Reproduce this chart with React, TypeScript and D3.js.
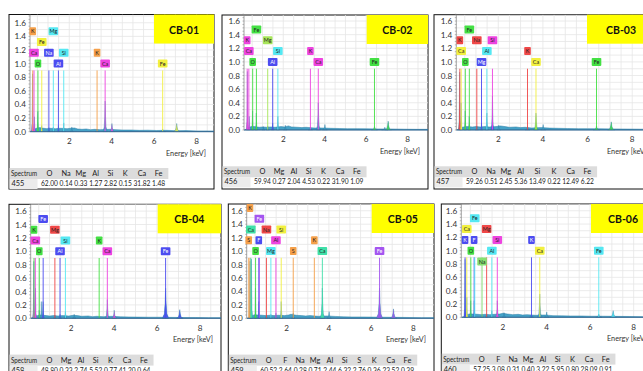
import * as d3 from "d3";

type Pt = [number, number];

const panelNames = ["CB-01", "CB-02", "CB-03", "CB-04", "CB-05", "CB-06"];
const spectrumIds = ["455", "456", "457", "458", "459", "460"];

const yTicks = [0, 0.2, 0.4, 0.6, 0.8, 1.0, 1.2, 1.4, 1.6];
const xTicks = [2, 4, 6, 8];

const tableElements = [
  ["O", "Na", "Mg", "Al", "Si", "K", "Ca", "Fe"],
  ["O", "Mg", "Al", "Si", "K", "Ca", "Fe"],
  ["O", "Na", "Mg", "Al", "Si", "K", "Ca", "Fe"],
  ["O", "Mg", "Al", "Si", "K", "Ca", "Fe"],
  ["O", "F", "Na", "Mg", "Al", "Si", "S", "K", "Ca", "Fe"],
  ["O", "F", "Na", "Mg", "Al", "Si", "K", "Ca", "Fe"],
];

const tableValues = [
  [62.0, 0.14, 0.33, 1.27, 2.82, 0.15, 31.82, 1.48],
  [59.94, 0.27, 2.04, 4.53, 0.22, 31.9, 1.09],
  [59.26, 0.51, 2.45, 5.36, 13.49, 0.22, 12.49, 6.22],
  [48.8, 0.33, 2.74, 5.52, 0.77, 41.2, 0.64],
  [60.52, 2.64, 0.28, 0.71, 2.44, 6.32, 2.76, 0.36, 23.52, 0.39],
  [57.25, 3.08, 0.31, 0.4, 3.22, 5.95, 0.8, 28.09, 0.91],
];

// element marker lines: [element, line energy keV, label tier]
const markers: [string, number, number][][] = [
  [["K", 0.28, 3], ["Ca", 0.34, 1], ["O", 0.525, 0], ["Fe", 0.705, 2], ["Na", 1.04, 1], ["Mg", 1.25, 3], ["Al", 1.49, 0], ["Si", 1.74, 1], ["K", 3.31, 1], ["Ca", 3.69, 0], ["Fe", 6.4, 0]],
  [["K", 0.26, 2], ["Ca", 0.34, 1], ["O", 0.525, 0], ["Fe", 0.705, 3], ["Mg", 1.25, 2], ["Al", 1.49, 0], ["Si", 1.74, 1], ["K", 3.31, 1], ["Ca", 3.69, 0], ["Fe", 6.4, 0]],
  [["K", 0.28, 2], ["Ca", 0.34, 1], ["O", 0.525, 0], ["Fe", 0.705, 3], ["Na", 1.04, 2], ["Mg", 1.25, 0], ["Al", 1.49, 1], ["Si", 1.74, 2], ["K", 3.31, 1], ["Ca", 3.69, 0], ["Fe", 6.4, 0]],
  [["K", 0.28, 2], ["Ca", 0.34, 1], ["O", 0.525, 0], ["Fe", 0.705, 3], ["Mg", 1.25, 2], ["Al", 1.49, 0], ["Si", 1.74, 1], ["K", 3.31, 1], ["Ca", 3.69, 0], ["Fe", 6.4, 0]],
  [["S", 0.2, 1], ["K", 0.26, 4], ["Ca", 0.3, 2], ["O", 0.525, 0], ["F", 0.677, 1], ["Fe", 0.705, 3], ["Na", 1.04, 2], ["Mg", 1.25, 0], ["Al", 1.49, 1], ["Si", 1.74, 2], ["S", 2.31, 0], ["K", 3.31, 1], ["Ca", 3.69, 0], ["Fe", 6.4, 0]],
  [["K", 0.26, 1], ["Ca", 0.34, 2], ["O", 0.525, 0], ["F", 0.677, 1], ["Fe", 0.705, 3], ["Na", 1.04, -1], ["Mg", 1.25, 2], ["Al", 1.49, 0], ["Si", 1.74, 1], ["K", 3.31, 1], ["Ca", 3.69, 0], ["Fe", 6.4, 0]],
];

// spectrum peaks: [energy keV, counts, element colour key or ""]
const peaks: [number, number, string][][] = [
  [[0.27, 0.85, "Ca"], [0.36, 0.22, "Ca"], [0.52, 0.3, "O"], [0.7, 0.09, "Fe"], [1.04, 0.06, ""], [1.25, 0.07, ""], [1.49, 0.09, ""], [1.74, 0.13, ""], [2.12, 0.07, ""], [3.31, 0.04, ""], [3.69, 0.45, ""], [4.01, 0.12, "Ca"], [6.4, 0.04, ""], [7.06, 0.12, "Fe"]],
  [[0.27, 0.86, "Ca"], [0.36, 0.2, "Ca"], [0.52, 0.28, "O"], [0.7, 0.25, "Fe"], [1.04, 0.05, ""], [1.25, 0.06, ""], [1.49, 0.1, "Al"], [1.74, 0.2, ""], [2.1, 0.07, ""], [3.31, 0.04, ""], [3.69, 0.4, ""], [4.01, 0.08, ""], [6.4, 0.05, "Fe"], [6.9, 0.04, ""], [7.06, 0.13, "Fe"]],
  [[0.27, 0.85, "K"], [0.34, 0.4, "Ca"], [0.52, 0.28, "O"], [0.7, 0.2, "Fe"], [1.04, 0.06, ""], [1.25, 0.1, ""], [1.49, 0.25, ""], [1.74, 0.5, "Mg"], [2.02, 0.07, ""], [3.31, 0.05, ""], [3.69, 0.25, "Fe"], [4.01, 0.08, ""], [6.4, 0.06, "Fe"], [7.06, 0.12, "Fe"]],
  [[0.27, 0.85, "Ca"], [0.35, 0.45, "Ca"], [0.52, 0.12, ""], [0.62, 0.25, ""], [0.7, 0.25, "Fe"], [1.25, 0.05, ""], [1.49, 0.06, ""], [1.74, 0.1, ""], [2.15, 0.06, ""], [3.69, 0.28, ""], [4.01, 0.12, "Ca"], [6.4, 0.45, "Fe"], [7.06, 0.13, "Fe"]],
  [[0.26, 0.85, "K"], [0.33, 0.88, "Ca"], [0.52, 0.45, "O"], [0.68, 0.25, ""], [1.04, 0.05, ""], [1.25, 0.06, ""], [1.49, 0.08, ""], [1.74, 0.25, ""], [2.31, 0.08, ""], [3.69, 0.45, "Ca"], [4.01, 0.1, ""], [6.4, 0.45, "Fe"], [7.06, 0.14, "Fe"]],
  [[0.26, 0.87, "K"], [0.34, 0.3, "Ca"], [0.52, 0.25, ""], [0.68, 0.25, ""], [1.04, 0.05, ""], [1.25, 0.05, ""], [1.49, 0.1, ""], [1.74, 0.25, "Si"], [2.05, 0.07, ""], [3.31, 0.04, ""], [3.69, 0.35, ""], [4.01, 0.08, ""], [6.4, 0.05, ""], [7.06, 0.1, "Fe"]],
];

// continuum background: [energy keV, counts]
const backgrounds: Pt[][] = [
  [[0.12, 0], [0.2, 0.01], [0.3, 0.03], [0.45, 0.05], [0.6, 0.06], [0.8, 0.05], [0.95, 0.045], [1.1, 0.05], [1.35, 0.045], [1.6, 0.05], [1.9, 0.045], [2.05, 0.05], [2.25, 0.055], [2.4, 0.04], [2.6, 0.035], [2.8, 0.04], [3.0, 0.03], [3.2, 0.035], [3.45, 0.03], [3.9, 0.035], [4.2, 0.03], [4.5, 0.025], [4.9, 0.025], [5.3, 0.02], [5.7, 0.022], [6.1, 0.018], [6.6, 0.02], [7.0, 0.015], [7.5, 0.016], [8.0, 0.012], [8.5, 0.012], [9.0, 0.01]],
  [[0.12, 0], [0.2, 0.01], [0.3, 0.03], [0.45, 0.05], [0.6, 0.05], [0.85, 0.04], [1.0, 0.045], [1.2, 0.04], [1.4, 0.045], [1.6, 0.04], [1.9, 0.05], [2.05, 0.045], [2.25, 0.06], [2.4, 0.045], [2.7, 0.04], [2.9, 0.035], [3.1, 0.04], [3.5, 0.03], [3.9, 0.03], [4.3, 0.025], [4.7, 0.022], [5.1, 0.02], [5.6, 0.02], [6.0, 0.018], [6.6, 0.016], [7.2, 0.015], [7.8, 0.012], [8.4, 0.01], [9.0, 0.01]],
  [[0.12, 0], [0.2, 0.01], [0.3, 0.03], [0.45, 0.045], [0.6, 0.05], [0.85, 0.045], [1.0, 0.05], [1.2, 0.045], [1.4, 0.05], [1.6, 0.045], [1.9, 0.05], [2.1, 0.06], [2.3, 0.05], [2.5, 0.04], [2.8, 0.045], [3.0, 0.035], [3.2, 0.04], [3.5, 0.03], [3.9, 0.035], [4.3, 0.028], [4.7, 0.025], [5.1, 0.022], [5.6, 0.02], [6.0, 0.02], [6.6, 0.018], [7.2, 0.016], [7.8, 0.014], [8.4, 0.012], [9.0, 0.01]],
  [[0.12, 0], [0.2, 0.01], [0.3, 0.03], [0.45, 0.04], [0.6, 0.05], [0.85, 0.04], [1.0, 0.035], [1.2, 0.04], [1.4, 0.035], [1.6, 0.04], [1.9, 0.035], [2.1, 0.045], [2.3, 0.04], [2.5, 0.03], [2.8, 0.035], [3.0, 0.025], [3.2, 0.03], [3.5, 0.025], [3.9, 0.03], [4.3, 0.022], [4.7, 0.02], [5.1, 0.018], [5.6, 0.016], [6.0, 0.016], [6.6, 0.014], [7.2, 0.012], [7.8, 0.012], [8.4, 0.01], [9.0, 0.01]],
  [[0.12, 0], [0.2, 0.01], [0.3, 0.03], [0.45, 0.05], [0.6, 0.05], [0.85, 0.045], [1.0, 0.04], [1.2, 0.045], [1.4, 0.04], [1.6, 0.045], [1.9, 0.04], [2.1, 0.05], [2.2, 0.06], [2.45, 0.045], [2.7, 0.04], [2.9, 0.035], [3.1, 0.04], [3.5, 0.03], [3.9, 0.035], [4.3, 0.028], [4.7, 0.022], [5.1, 0.02], [5.6, 0.02], [6.0, 0.018], [6.6, 0.016], [7.2, 0.014], [7.8, 0.012], [8.4, 0.01], [9.0, 0.01]],
  [[0.12, 0], [0.2, 0.01], [0.3, 0.03], [0.45, 0.05], [0.6, 0.05], [0.85, 0.045], [1.0, 0.04], [1.2, 0.045], [1.4, 0.04], [1.6, 0.045], [1.85, 0.05], [2.0, 0.06], [2.2, 0.05], [2.45, 0.04], [2.7, 0.045], [2.9, 0.035], [3.1, 0.04], [3.5, 0.03], [3.9, 0.035], [4.3, 0.025], [4.7, 0.022], [5.1, 0.02], [5.6, 0.02], [6.0, 0.016], [6.6, 0.016], [7.2, 0.014], [7.8, 0.012], [8.4, 0.01], [9.0, 0.01]],
];

const ORANGE = "#f5a04a";
const MAGENTA = "#ee44e0";
const GREEN = "#44e044";
const YELLOW = "#f2f040";
const BLUE = "#4c4cf0";
const CYAN = "#55e8f2";
const RED = "#f04848";
const LIME = "#a8e65a";
const PURPLE = "#a455f0";
const TEAL = "#3fe0a8";

const panelColors: Record<string, string>[] = [
  { K: ORANGE, Ca: MAGENTA, O: GREEN, Fe: YELLOW, Na: BLUE, Mg: CYAN, Al: BLUE, Si: CYAN },
  { K: MAGENTA, Ca: MAGENTA, O: GREEN, Fe: GREEN, Mg: LIME, Al: BLUE, Si: CYAN },
  { K: RED, Na: RED, Si: MAGENTA, Ca: YELLOW, Al: CYAN, O: GREEN, Mg: BLUE, Fe: GREEN },
  { Fe: BLUE, K: GREEN, Mg: RED, Ca: MAGENTA, Si: CYAN, O: GREEN, Al: BLUE },
  { K: ORANGE, Fe: PURPLE, Ca: TEAL, Na: RED, Si: YELLOW, S: ORANGE, F: BLUE, Al: MAGENTA, O: GREEN, Mg: CYAN },
  { Fe: CYAN, Ca: YELLOW, Mg: RED, K: BLUE, F: BLUE, Si: MAGENTA, O: GREEN, Al: CYAN, Na: "#86e070" },
];

const layouts = [
  { left: 9, top: 14.5, right: 214, bottom: 189, axisX: 30, k0: 26.8, kPer: 21.23, y0: 131.7, yPer: 68.1, yellowW: 60 },
  { left: 222, top: 15, right: 428, bottom: 189, axisX: 244, k0: 241.8, kPer: 20.73, y0: 130, yPer: 68.1, yellowW: 61.3 },
  { left: 434, top: 14.7, right: 655, bottom: 189, axisX: 456.3, k0: 453.6, kPer: 22.33, y0: 130, yPer: 68.1, yellowW: 68 },
  { left: 9, top: 204.3, right: 221, bottom: 400, axisX: 30.7, k0: 28, kPer: 21.5, y0: 318.3, yPer: 67, yellowW: 63.3 },
  { left: 228.3, top: 204, right: 434, bottom: 400, axisX: 246.7, k0: 244.5, kPer: 21.1, y0: 318.3, yPer: 67.2, yellowW: 62.3 },
  { left: 441.3, top: 204, right: 655, bottom: 400, axisX: 461.3, k0: 459.4, kPer: 21.78, y0: 317.3, yPer: 66.6, yellowW: 64 },
];

type Layout = (typeof layouts)[number];

const SPEC_FILL = "#45a2c8";
const SPEC_EDGE = "#2d7fa6";
const fmt = d3.format(".2f");
const TABLE_FONT = 7.4;

// narrow (Calibri-like) advance widths for the quant table
function tableWidth(s: string) {
  return s.split("").reduce((a, c) => a + (c === "." ? 0.252 : 0.507), 0) * TABLE_FONT;
}

function peakShape(e: number, h: number): Pt[] {
  const w = 0.05 + 0.015 * e;
  return [
    [e - w, 0],
    [e - w * 0.4, h * 0.15],
    [e - w * 0.16, h * 0.5],
    [e - w * 0.05, h * 0.85],
    [e, h],
    [e + w * 0.05, h * 0.85],
    [e + w * 0.16, h * 0.5],
    [e + w * 0.4, h * 0.15],
    [e + w, 0],
  ];
}

function textOn(color: string) {
  return (d3.lab(color).l ?? 60) > 55 ? "#222" : "#fff";
}

function Panel({ index, L }: { index: number; L: Layout }) {
  const x = d3.scaleLinear().domain([0, 8]).range([L.k0, L.k0 + 8 * L.kPer]);
  const y = d3.scaleLinear().domain([0, 1.6]).range([L.y0, L.y0 - 1.6 * L.yPer]);
  const colors = panelColors[index];
  const clipId = `plot-clip-${index}`;
  const area = d3
    .area<Pt>()
    .x((d) => x(d[0]))
    .y0(y(0))
    .y1((d) => y(d[1]));
  const gridX = d3.range(0, 9.01, 0.5);
  const gridY = d3.range(0.1, 1.75, 0.1);
  const minorY = d3.range(0, 1.72, 0.05);
  const elements = tableElements[index];
  const headerY = L.y0 + 41.8;
  const rowY = L.y0 + 51.8;
  const tierStep = 10.8;

  // lay the value row out like running text, headers centred above
  const space = 0.226 * TABLE_FONT;
  let cursor = L.left + 32;
  const cells = tableValues[index].map((v) => {
    const label = fmt(v);
    const w = tableWidth(label);
    const cell = { label, x: cursor, w };
    cursor += w + space;
    return cell;
  });
  const tableEnd = cursor + 1;

  return (
    <g>
      <rect x={L.left} y={L.top} width={L.right - L.left} height={L.bottom - L.top} fill="#fff" stroke="#111" strokeWidth={1} />
      <defs>
        <clipPath id={clipId}>
          <rect x={L.axisX} y={L.top} width={L.right - L.axisX} height={L.y0 - L.top + 0.5} />
        </clipPath>
      </defs>

      <g clipPath={`url(#${clipId})`}>
        {gridX.map((k) => (
          <line key={`gx${k}`} x1={x(k)} x2={x(k)} y1={L.top} y2={L.y0} stroke="#e6e6e6" strokeWidth={0.8} />
        ))}
        {gridY.map((v) => (
          <line key={`gy${v}`} x1={L.axisX} x2={L.right} y1={y(v)} y2={y(v)} stroke="#e6e6e6" strokeWidth={0.8} />
        ))}

        <path d={area(backgrounds[index]) ?? ""} fill={SPEC_FILL} stroke={SPEC_EDGE} strokeWidth={0.5} />
        {peaks[index].map(([e, h], i) => (
          <path key={`p${i}`} d={area(peakShape(e, h)) ?? ""} fill={SPEC_FILL} stroke={SPEC_EDGE} strokeWidth={0.4} />
        ))}
        {peaks[index]
          .filter((p) => p[2])
          .map(([e, h, el], i) => (
            <path key={`c${i}`} d={area(peakShape(e, h)) ?? ""} fill={colors[el]} opacity={0.8} />
          ))}

        {markers[index].map(([el, e], i) => (
          <line key={`m${i}`} x1={x(e)} x2={x(e)} y1={y(0)} y2={y(0.9)} stroke={colors[el]} strokeWidth={1} opacity={0.9} />
        ))}
      </g>

      <line x1={L.axisX} x2={L.right} y1={L.y0} y2={L.y0} stroke="#35658f" strokeWidth={1} />
      <line x1={L.axisX} x2={L.axisX} y1={L.top} y2={L.y0} stroke="#8a8a8a" strokeWidth={0.8} />
      {minorY.map((v) => (
        <line key={`t${v}`} x1={L.axisX - 1.5} x2={L.axisX} y1={y(v)} y2={y(v)} stroke="#8a8a8a" strokeWidth={0.6} />
      ))}

      {markers[index].map(([el, e, tier], i) => {
        const w = el.length > 1 ? 9.6 : 6.6;
        const cy = y(1.0) - tier * tierStep;
        const c = colors[el];
        return (
          <g key={`lb${i}`}>
            <rect x={x(e) - w / 2} y={cy - 4} width={w} height={8} fill={c} rx={0.8} />
            <text x={x(e)} y={cy + 2} fontSize={5.4} textAnchor="middle" fill={textOn(c)}>
              {el}
            </text>
          </g>
        );
      })}

      {yTicks.map((v) => (
        <text key={`yl${v}`} x={L.axisX - 4} y={y(v) + 3} fontSize={8.2} textAnchor="end" fill="#333">
          {d3.format(".1f")(v)}
        </text>
      ))}
      {xTicks.map((k) => (
        <text key={`xl${k}`} x={x(k)} y={L.y0 + 12.3} fontSize={8.2} textAnchor="middle" fill="#333">
          {k}
        </text>
      ))}
      <text x={L.right - 8} y={L.y0 + 24} fontSize={8} textAnchor="end" fill="#333" textLength={40} lengthAdjust="spacingAndGlyphs">
        Energy [keV]
      </text>

      <rect x={L.right - L.yellowW} y={L.top} width={L.yellowW} height={29} fill="#ffff00" />
      <text x={L.right - L.yellowW / 2} y={L.top + 19} fontSize={10.5} fontWeight="bold" textAnchor="middle" fill="#111">
        {panelNames[index]}
      </text>

      <rect x={L.left + 0.5} y={headerY - 5.5} width={tableEnd - L.left} height={11} fill="#dcdcdc" />
      <rect x={L.left + 0.5} y={headerY + 5.5} width={28} height={10} fill="#ececec" />
      <text x={L.left + 2} y={headerY + 2.5} fontSize={TABLE_FONT} fill="#222" textLength={26} lengthAdjust="spacingAndGlyphs">
        Spectrum
      </text>
      <text x={L.left + 2.5} y={rowY + 2.5} fontSize={TABLE_FONT} fill="#222">
        {spectrumIds[index]}
      </text>
      {elements.map((el, i) => (
        <text key={`th${i}`} x={cells[i].x + cells[i].w / 2} y={headerY + 2.5} fontSize={TABLE_FONT} textAnchor="middle" fill="#222">
          {el}
        </text>
      ))}
      {cells.map((c, i) => (
        <text key={`td${i}`} x={c.x} y={rowY + 2.5} fontSize={TABLE_FONT} fill="#222" textLength={c.w} lengthAdjust="spacingAndGlyphs">
          {c.label}
        </text>
      ))}
    </g>
  );
}

export default function App() {
  return (
    <svg
      width={643}
      height={371}
      style={{ position: "absolute", left: 0, top: 0, background: "#fff" }}
      fontFamily="Lato, 'Liberation Sans', Arial, sans-serif"
    >
      {layouts.map((L, i) => (
        <Panel key={i} index={i} L={L} />
      ))}
    </svg>
  );
}
